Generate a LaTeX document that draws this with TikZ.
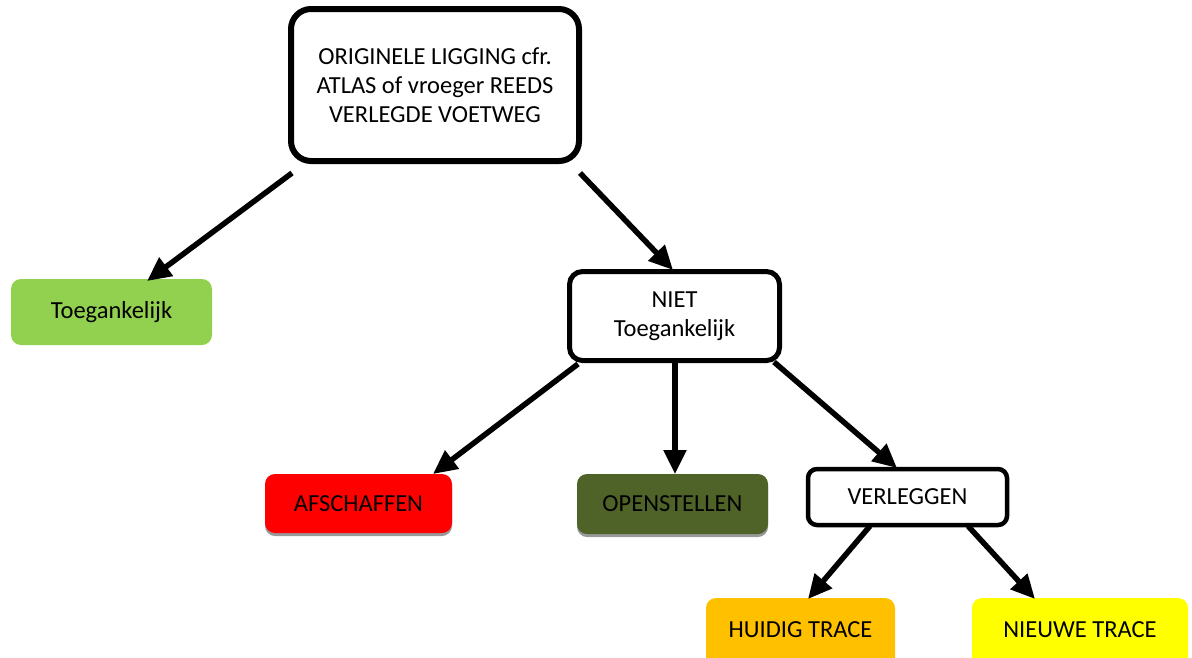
\documentclass[tikz,border=0pt]{standalone}
\usepackage{fontspec}
\setmainfont{Carlito}
\usetikzlibrary{arrows.meta,shadows}
\definecolor{cgreen}{HTML}{92D050}
\definecolor{cred}{HTML}{FF0000}
\definecolor{colive}{HTML}{4F6228}
\definecolor{corange}{HTML}{FFC000}
\definecolor{cyellow}{HTML}{FFFF00}
\tikzset{
  txt/.style={font=\fontsize{24.5}{29}\selectfont, align=center, text=black, inner sep=0pt},
  framebox/.style={txt, draw=black, fill=white, rounded corners=#1},
  fillbox/.style={txt, fill=#1, rounded corners=10pt},
  shadowed/.style={drop shadow={shadow xshift=0pt, shadow yshift=-3pt, fill=black!40, opacity=1}},
  cutbox/.style={minimum height=70pt, text height=18pt, text depth=10pt},
  conn/.style={line width=5.5pt, -{Triangle[length=24pt,width=22pt]}},
}
\begin{document}
\begin{tikzpicture}[x=1pt,y=-1pt]
\useasboundingbox (0,0) rectangle (1192,657);
% framed boxes
\node[framebox=20pt, line width=6pt, minimum width=288pt, minimum height=152pt] (top) at (435,85)
  {ORIGINELE LIGGING cfr.\\ATLAS of vroeger REEDS\\VERLEGDE VOETWEG};
\node[framebox=13pt, line width=5pt, minimum width=210pt, minimum height=89pt] (niet) at (674.5,316)
  {NIET\\Toegankelijk};
\node[framebox=9pt, line width=4.5pt, minimum width=199pt, minimum height=56pt] (verl) at (907.5,497)
  {VERLEGGEN};
% filled boxes
\node[fillbox=cgreen, minimum width=201pt, minimum height=66pt] (toeg) at (111.5,312) {Toegankelijk};
\node[fillbox=cred, shadowed, minimum width=187pt, minimum height=59pt] (afsch) at (358.5,503.5) {AFSCHAFFEN};
\node[fillbox=colive, shadowed, minimum width=191pt, minimum height=60pt] (open) at (672.5,504) {OPENSTELLEN};
\node[fillbox=corange, cutbox, minimum width=189pt] (huid) at (800.5,633) {HUIDIG TRACE};
\node[fillbox=cyellow, cutbox, minimum width=216pt] (nieuw) at (1080,633) {NIEUWE TRACE};
% connector end points
\coordinate (s1) at (292,173);
\coordinate (t1) at (147,281);
\coordinate (s2) at (580,173);
\coordinate (t2) at (673,270);
\coordinate (s3) at (578,364);
\coordinate (t3) at (433,474);
\coordinate (s4) at (675,362);
\coordinate (t4) at (675,474);
\coordinate (s5) at (774,362);
\coordinate (t5) at (897,468);
\coordinate (s6) at (870,526);
\coordinate (t6) at (808,599);
\coordinate (s7) at (968,526);
\coordinate (t7) at (1035,599);
\draw[conn] (s1) -- (t1);
\draw[conn] (s2) -- (t2);
\draw[conn] (s3) -- (t3);
\draw[conn] (s4) -- (t4);
\draw[conn] (s5) -- (t5);
\draw[conn] (s6) -- (t6);
\draw[conn] (s7) -- (t7);
\end{tikzpicture}
\end{document}
